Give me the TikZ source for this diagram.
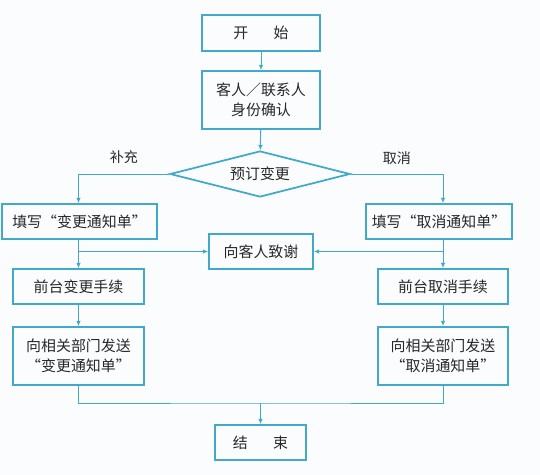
\documentclass[tikz,border=0pt]{standalone}
\usepackage{fontspec}
\setmainfont{Noto Sans CJK SC}
\usetikzlibrary{shapes.geometric,arrows.meta}
\definecolor{flowblue}{RGB}{66,170,200}
\definecolor{inkgray}{RGB}{40,40,40}
\definecolor{paper}{RGB}{250,252,253}

\begin{document}
\begin{tikzpicture}[x=0.02cm,y=-0.02cm,
	box/.style={draw=flowblue,line width=1pt,inner sep=0pt,align=center,text=inkgray,font=\fontsize{8.5}{11.5}\selectfont},
	flow/.style={draw=flowblue,line width=.55pt,-{Latex[length=3pt,width=2.6pt]}},
	link/.style={draw=flowblue,line width=.55pt}]
	\fill[paper] (0,0) rectangle (540,475);
	\useasboundingbox (0,0) rectangle (540,475);
	% boxes
	\node[box,minimum width=2.36cm,minimum height=.72cm] (start) at (261,33) {开\hspace{1.7em}始};
	\node[box,minimum width=2.36cm,minimum height=1.16cm] (guest) at (261,100) {客人／联系人\\身份确认};
	\node[box,diamond,aspect=3.9,minimum width=3.6cm,minimum height=.92cm] (change) at (260,174) {预订变更};
	\node[box,minimum width=3.1cm,minimum height=.7cm] (fillL) at (79.5,221.5) {填写“变更通知单”};
	\node[box,minimum width=2.92cm,minimum height=.7cm] (fillR) at (439,221.5) {填写“取消通知单”};
	\node[box,minimum width=2.08cm,minimum height=.7cm] (thanks) at (261,251.5) {向客人致谢};
	\node[box,minimum width=2.62cm,minimum height=.7cm] (deskL) at (78.5,286.5) {前台变更手续};
	\node[box,minimum width=2.6cm,minimum height=.7cm] (deskR) at (443,286.5) {前台取消手续};
	\node[box,minimum width=2.62cm,minimum height=1.16cm] (sendL) at (78.5,356) {向相关部门发送\\“变更通知单”};
	\node[box,minimum width=2.6cm,minimum height=1.16cm] (sendR) at (443,356) {向相关部门发送\\“取消通知单”};
	\node[box,minimum width=1.82cm,minimum height=.7cm] (finish) at (260.5,442.5) {结\hspace{1.7em}束};
	\coordinate (join) at (260.5,403);
	% connectors
	\draw[flow] (start) -- (guest);
	\draw[flow] (guest) -- (change);
	\draw[flow] (change.west) -| node[above=2pt,pos=.25,text=inkgray,font=\fontsize{8}{10}\selectfont]{补充} (fillL.north -| deskL.north);
	\draw[flow] (change.east) -| node[above=2pt,pos=.25,text=inkgray,font=\fontsize{8}{10}\selectfont]{取消} (fillR.north -| deskR.north);
	\draw[flow] (fillL.south -| deskL.north) -- (deskL.north);
	\draw[flow] (fillR.south -| deskR.north) -- (deskR.north);
	\draw[flow] (thanks.west -| deskL.north) -- (thanks.west);
	\draw[flow] (thanks.east -| deskR.north) -- (thanks.east);
	\draw[flow] (deskL) -- (sendL);
	\draw[flow] (deskR) -- (sendR);
	\draw[link] (sendL.south) |- (join) -| (sendR.south);
	\draw[flow] (join) -- (finish.north);
\end{tikzpicture}
\end{document}
